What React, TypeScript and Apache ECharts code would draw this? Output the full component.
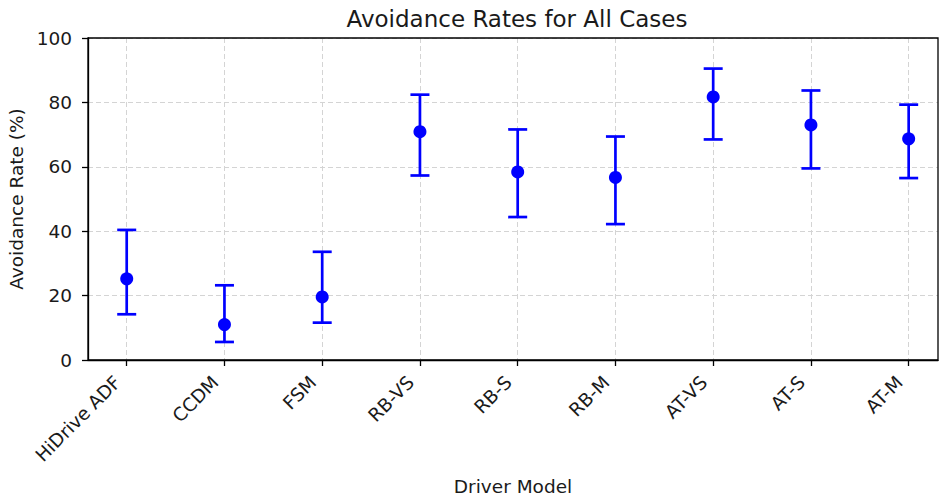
import React, { useEffect, useRef } from "react";
import * as echarts from "echarts";

const categories = ["HiDrive ADF", "CCDM", "FSM", "RB-VS", "RB-S", "RB-M", "AT-VS", "AT-S", "AT-M"];
const rates = [25.2, 11.0, 19.6, 70.9, 58.4, 56.7, 81.7, 73.0, 68.7];
const lowerBounds = [14.2, 5.6, 11.6, 57.3, 44.4, 42.2, 68.5, 59.5, 56.5];
const upperBounds = [40.4, 23.2, 33.6, 82.4, 71.6, 69.4, 90.5, 83.7, 79.3];
const yTicks = [0, 20, 40, 60, 80, 100];

const BLUE = "#0000ff";
const FONT = "DejaVu Sans";
const TEXT = "#1a1a1a";

export default function App() {
  const ref = useRef<HTMLDivElement>(null);
  useEffect(() => {
    document.body.style.margin = "0";
    const chart = echarts.init(ref.current!, undefined, { renderer: "svg" });
    const idx = categories.map((_, i) => i);
    const errData = idx.map((i) => [i, lowerBounds[i], upperBounds[i]]);
    const ptData = idx.map((i) => [i, rates[i]]);
    const W = 939, H = 497;
    const gridLeft = 88, gridRight = 1, gridTop = 38, gridBottom = 137;
    chart.setOption({
      animation: false,
      backgroundColor: "#ffffff",
      textStyle: { fontFamily: FONT },
      grid: {
        left: gridLeft, right: gridRight, top: gridTop, bottom: gridBottom,
        show: false,
        outerBoundsMode: "none", containLabel: false,
      },
      graphic: [
        {
          type: "text", x: 517, y: 19,
          style: { text: "Avoidance Rates for All Cases", font: `23px ${FONT}`, fill: TEXT, textAlign: "center", textVerticalAlign: "middle" },
        },
        {
          type: "rect", z: 100, silent: true,
          shape: { x: gridLeft, y: gridTop, width: W - gridLeft - gridRight, height: H - gridTop - gridBottom },
          style: { fill: "none", stroke: "#000000", lineWidth: 1.3 },
        },
      ],
      xAxis: {
        type: "value", min: -0.396, max: 8.3,
        name: "Driver Model", nameLocation: "middle", nameGap: 117,
        nameTextStyle: { fontFamily: FONT, fontSize: 18.5, color: TEXT },
        axisLine: { show: true, onZero: false, lineStyle: { color: "#000000", width: 1.3 } },
        axisTick: { show: true, length: 6, lineStyle: { color: "#000000", width: 1.3 }, customValues: idx },
        axisLabel: {
          show: true, rotate: 45, margin: 10, fontSize: 18.5, fontFamily: FONT, color: TEXT,
          padding: [0, 13, 0, 0],
          customValues: idx,
          formatter: (v: number) => categories[Math.round(v)] ?? "",
        },
        splitLine: { show: true, lineStyle: { color: "#d4d4d4", type: [5, 3], width: 1 } },
      },
      yAxis: {
        type: "value", min: 0, max: 100, interval: 20,
        name: "Avoidance Rate (%)", nameLocation: "middle", nameGap: 62,
        nameTextStyle: { fontFamily: FONT, fontSize: 18.5, color: TEXT },
        axisLine: { show: true, onZero: false, lineStyle: { color: "#000000", width: 1.3 } },
        axisTick: { show: true, length: 6, lineStyle: { color: "#000000", width: 1.3 } },
        axisLabel: {
          fontSize: 18.5, fontFamily: FONT, color: TEXT, margin: 16,
          formatter: (v: number) => (yTicks.includes(v) ? String(v) : ""),
        },
        splitLine: { show: true, lineStyle: { color: "#d4d4d4", type: [5, 3], width: 1 } },
      },
      series: [
        {
          type: "custom",
          data: errData,
          encode: { x: 0, y: [1, 2] },
          z: 3,
          renderItem: (params: any, api: any) => {
            const x = api.value(0);
            const lo = api.coord([x, api.value(1)]);
            const hi = api.coord([x, api.value(2)]);
            const half = 9.5;
            const style = { stroke: BLUE, lineWidth: 2.7, fill: "none" };
            return {
              type: "group",
              children: [
                { type: "line", shape: { x1: hi[0], y1: hi[1], x2: lo[0], y2: lo[1] }, style },
                { type: "line", shape: { x1: hi[0] - half, y1: hi[1], x2: hi[0] + half, y2: hi[1] }, style },
                { type: "line", shape: { x1: lo[0] - half, y1: lo[1], x2: lo[0] + half, y2: lo[1] }, style },
              ],
            };
          },
        },
        {
          type: "scatter",
          data: ptData,
          symbol: "circle",
          symbolSize: 13,
          z: 4,
          itemStyle: { color: BLUE, opacity: 1 },
        },
      ],
    });
    return () => chart.dispose();
  }, []);
  return <div ref={ref} style={{ width: 939, height: 497 }} />;
}
